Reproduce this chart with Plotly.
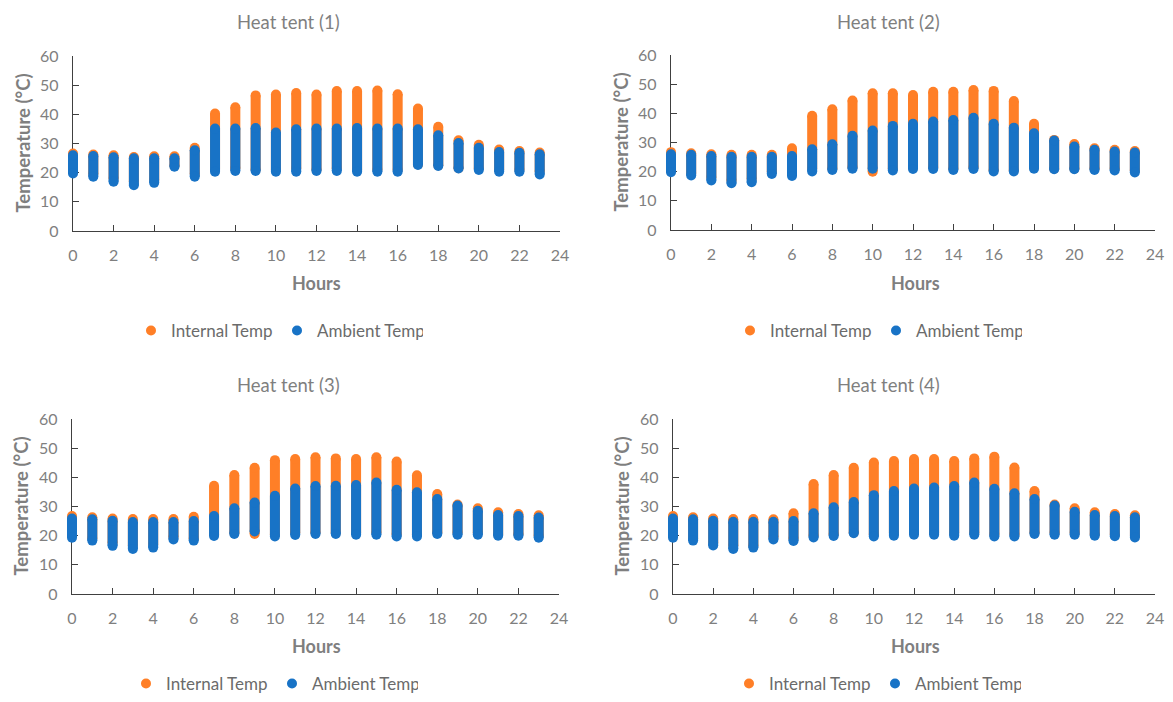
import plotly.graph_objects as go

hours = list(range(24))
panel_titles = ["Heat tent (1)", "Heat tent (2)", "Heat tent (3)", "Heat tent (4)"]
series_names = ["Internal Temp", "Ambient Temp"]
x_ticks = list(range(0, 25, 2))
y_ticks = list(range(0, 61, 10))

# Panel 1
int_max_1 = [26.6, 26.2, 26.0, 25.4, 25.6, 25.6, 28.5, 40.3, 42.4, 46.5, 46.8, 47.3, 46.8, 48.0, 48.0, 48.2, 46.9, 42.0, 35.7, 31.1, 29.6, 27.9, 27.4, 26.9]
int_min_1 = [20.5, 19.5, 18.0, 17.0, 17.5, 22.3, 19.5, 21.0, 21.5, 21.0, 21.0, 21.5, 21.0, 21.5, 21.0, 21.0, 21.0, 22.8, 22.5, 21.5, 21.5, 21.0, 21.0, 20.5]
amb_max_1 = [26.0, 25.7, 25.3, 24.9, 24.9, 24.9, 27.7, 35.1, 35.1, 35.3, 33.8, 34.9, 35.1, 35.1, 35.3, 35.1, 35.1, 34.9, 32.8, 30.2, 28.5, 27.1, 26.8, 26.3]
amb_min_1 = [19.7, 18.6, 16.9, 15.7, 16.5, 22.0, 18.6, 20.3, 20.6, 20.6, 20.3, 20.3, 20.6, 20.6, 20.3, 20.3, 20.3, 22.6, 22.3, 21.4, 20.9, 20.3, 20.3, 19.4]

# Panel 2
int_max_2 = [26.7, 26.3, 26.0, 25.8, 25.8, 25.8, 28.0, 39.2, 41.4, 44.4, 46.9, 46.9, 46.3, 47.4, 47.4, 48.0, 47.7, 44.2, 36.4, 30.9, 29.5, 28.0, 27.5, 27.1]
int_min_2 = [20.5, 19.5, 18.0, 17.0, 17.5, 20.0, 19.5, 21.0, 21.0, 21.5, 20.0, 21.0, 21.5, 21.5, 21.0, 21.5, 20.5, 20.5, 21.5, 21.0, 21.0, 21.0, 21.0, 20.5]
amb_max_2 = [26.0, 25.8, 25.4, 25.1, 25.1, 25.1, 25.4, 27.7, 29.4, 32.3, 34.1, 35.7, 36.4, 37.2, 37.7, 38.5, 36.4, 35.1, 33.2, 30.7, 28.6, 27.5, 26.9, 26.6]
amb_min_2 = [19.8, 18.7, 17.0, 16.0, 16.4, 19.2, 18.5, 20.1, 20.6, 21.0, 21.0, 20.4, 20.9, 20.9, 20.6, 20.9, 20.1, 20.1, 21.0, 20.8, 20.8, 20.6, 20.4, 19.7]

# Panel 3
int_max_3 = [26.7, 26.3, 25.9, 25.7, 25.7, 25.7, 26.5, 37.1, 40.8, 43.3, 45.9, 46.3, 46.9, 46.5, 46.3, 46.9, 45.4, 40.7, 34.3, 30.7, 29.4, 28.0, 27.4, 27.0]
int_min_3 = [20.0, 19.0, 17.5, 16.5, 17.0, 19.5, 19.0, 20.5, 21.0, 20.6, 20.5, 21.0, 21.0, 21.0, 21.0, 21.0, 20.5, 20.5, 21.0, 21.0, 21.0, 20.5, 20.5, 20.0]
amb_max_3 = [25.9, 25.6, 25.1, 24.7, 24.7, 24.7, 25.0, 26.7, 29.4, 31.4, 33.7, 36.2, 37.0, 37.1, 37.4, 38.2, 35.7, 34.9, 32.6, 30.3, 28.5, 27.1, 26.7, 26.2]
amb_min_3 = [19.3, 18.3, 16.5, 15.4, 15.9, 18.7, 18.3, 19.9, 20.6, 21.4, 19.7, 20.2, 20.6, 20.6, 20.3, 20.3, 19.7, 19.7, 20.6, 20.3, 20.3, 20.0, 20.0, 19.3]

# Panel 4
int_max_4 = [26.7, 26.3, 25.9, 25.7, 25.7, 25.6, 27.7, 37.7, 40.8, 43.3, 45.1, 45.6, 46.3, 46.3, 45.6, 46.5, 47.1, 43.4, 35.3, 30.7, 29.4, 28.0, 27.4, 27.0]
int_min_4 = [20.0, 19.0, 17.5, 16.5, 16.5, 19.5, 19.0, 20.0, 20.5, 21.0, 20.5, 21.0, 21.0, 21.0, 21.0, 21.0, 20.5, 20.5, 21.0, 21.0, 21.0, 20.5, 20.5, 20.0]
amb_max_4 = [25.9, 25.6, 25.1, 24.8, 24.8, 24.8, 25.0, 27.7, 29.7, 31.5, 33.9, 35.3, 36.2, 36.5, 37.0, 38.2, 36.1, 34.5, 32.6, 30.3, 28.2, 27.1, 26.7, 26.3]
amb_min_4 = [19.3, 18.3, 16.6, 15.4, 15.9, 18.7, 18.2, 19.4, 19.9, 20.8, 19.7, 20.0, 20.3, 20.3, 20.0, 20.3, 19.7, 19.7, 20.6, 20.3, 20.3, 20.0, 19.8, 19.4]

internal_min = [int_min_1, int_min_2, int_min_3, int_min_4]
internal_max = [int_max_1, int_max_2, int_max_3, int_max_4]
ambient_min = [amb_min_1, amb_min_2, amb_min_3, amb_min_4]
ambient_max = [amb_max_1, amb_max_2, amb_max_3, amb_max_4]

# ---------------- styling / layout ----------------
# The page body has an 8px margin, so the figure is sized to fit inside it
OFF = 8
W, H = 1173 - 2 * OFF, 702 - 2 * OFF
FONT = "Lato"
ORANGE = "#FF7F27"
BLUE = "#1873C6"
GRAY = "#7F7F7F"
AXIS = "#404040"
MK = 10


def fx(px):  # px = target window pixel
    return (px - OFF) / W


def fy(py):
    return 1 - (py - OFF) / H


panels = [
    dict(x0=73, x1=560, y0=56, y1=231, tx=288, ty=22, hx=316, hy=283, lx=22, gy=331, gx=171),
    dict(x0=671, x1=1155, y0=55, y1=230, tx=888, ty=22, hx=915, hy=283, lx=621, gy=331, gx=770),
    dict(x0=72, x1=559, y0=419, y1=594, tx=288, ty=385, hx=316, hy=646, lx=20, gy=684, gx=166),
    dict(x0=673, x1=1155, y0=419, y1=594, tx=888, ty=385, hx=915, hy=646, lx=621, gy=684, gx=769),
]

fig = go.Figure()
layout = dict(
    width=W, height=H, margin=dict(l=0, r=0, t=0, b=0, pad=0, autoexpand=False),
    paper_bgcolor="white", plot_bgcolor="rgba(0,0,0,0)",
    font=dict(family=FONT, color=GRAY),
    annotations=[],
)

EXT = 12  # px extension of the data area to the left so the hour-0 column is not clipped


def ax_names(n):
    return ("xaxis" if n == 1 else f"xaxis{n}", "yaxis" if n == 1 else f"yaxis{n}",
            "x" if n == 1 else f"x{n}", "y" if n == 1 else f"y{n}")


for i, p in enumerate(panels):
    kx, ky, kxr, kyr = ax_names(i + 1)      # decoration axes
    dx, dy, dxr, dyr = ax_names(i + 5)      # data axes
    ydom = [fy(p["y1"]), fy(p["y0"])]
    layout[kx] = dict(
        domain=[fx(p["x0"]), fx(p["x1"])], range=[0, 24], anchor=kyr,
        tickvals=x_ticks, ticks="inside", ticklen=6, tickcolor=AXIS, tickwidth=1.3,
        showline=True, linecolor=AXIS, linewidth=1.3, showgrid=False, zeroline=False,
        tickfont=dict(family=FONT, size=16, color=GRAY), ticklabelstandoff=10,
        automargin=False, fixedrange=True,
    )
    layout[ky] = dict(
        domain=ydom, range=[0, 60], anchor=kxr,
        tickvals=y_ticks, ticks="inside", ticklen=6, tickcolor=AXIS, tickwidth=1.3,
        showline=True, linecolor=AXIS, linewidth=1.3, showgrid=False, zeroline=False,
        tickfont=dict(family=FONT, size=16, color=GRAY), ticklabelstandoff=10,
        automargin=False, fixedrange=True,
    )
    span = 24 * EXT / (p["x1"] - p["x0"])
    layout[dx] = dict(
        domain=[fx(p["x0"] - EXT), fx(p["x1"])], range=[-span, 24], anchor=dyr,
        visible=False, automargin=False, fixedrange=True,
    )
    layout[dy] = dict(domain=ydom, range=[0, 60], anchor=dxr, visible=False,
                      automargin=False, fixedrange=True)

    # empty trace so the decoration subplot is created
    fig.add_trace(go.Scatter(x=[None], y=[None], xaxis=kxr, yaxis=kyr, mode="markers",
                             showlegend=False, hoverinfo="skip"))

    leg = "legend" if i == 0 else f"legend{i + 1}"
    layout[leg] = dict(
        orientation="h", x=fx(p["gx"] - 40), xanchor="left", y=fy(p["gy"]), yanchor="middle",
        entrywidth=101, entrywidthmode="pixels", bgcolor="rgba(0,0,0,0)",
        font=dict(family=FONT, size=17, color="#6B6B6B"), itemclick=False, itemdoubleclick=False,
    )

    for name, color, mins, maxs in [
        (series_names[0], ORANGE, internal_min[i], internal_max[i]),
        (series_names[1], BLUE, ambient_min[i], ambient_max[i]),
    ]:
        xs, ys = [], []
        for h, lo, hi in zip(hours, mins, maxs):
            xs += [h, h, None]
            ys += [lo, hi, None]
        fig.add_trace(go.Scatter(
            x=xs, y=ys, mode="lines", line=dict(color=color, width=MK),
            xaxis=dxr, yaxis=dyr, showlegend=False, hoverinfo="skip",
        ))
        fig.add_trace(go.Scatter(
            x=xs, y=ys, mode="markers", name=name,
            marker=dict(color=color, size=MK, line=dict(width=0)),
            xaxis=dxr, yaxis=dyr, cliponaxis=False, legend=leg,
        ))

    layout["annotations"] += [
        dict(text=panel_titles[i], x=fx(p["tx"]), y=fy(p["ty"]), xref="paper", yref="paper",
             showarrow=False, xanchor="center", yanchor="middle",
             font=dict(family=FONT, size=18.5, color=GRAY)),
        dict(text="<b>Hours</b>", x=fx(p["hx"]), y=fy(p["hy"]), xref="paper", yref="paper",
             showarrow=False, xanchor="center", yanchor="middle",
             font=dict(family=FONT, size=18, color=GRAY)),
        dict(text="<b>Temperature (°C)</b>", x=fx(p["lx"]), y=(ydom[0] + ydom[1]) / 2,
             xref="paper", yref="paper", showarrow=False, textangle=-90,
             xanchor="center", yanchor="middle",
             font=dict(family=FONT, size=18.5, color=GRAY)),
    ]

fig.update_layout(**layout)
fig.write_html("out.html")
